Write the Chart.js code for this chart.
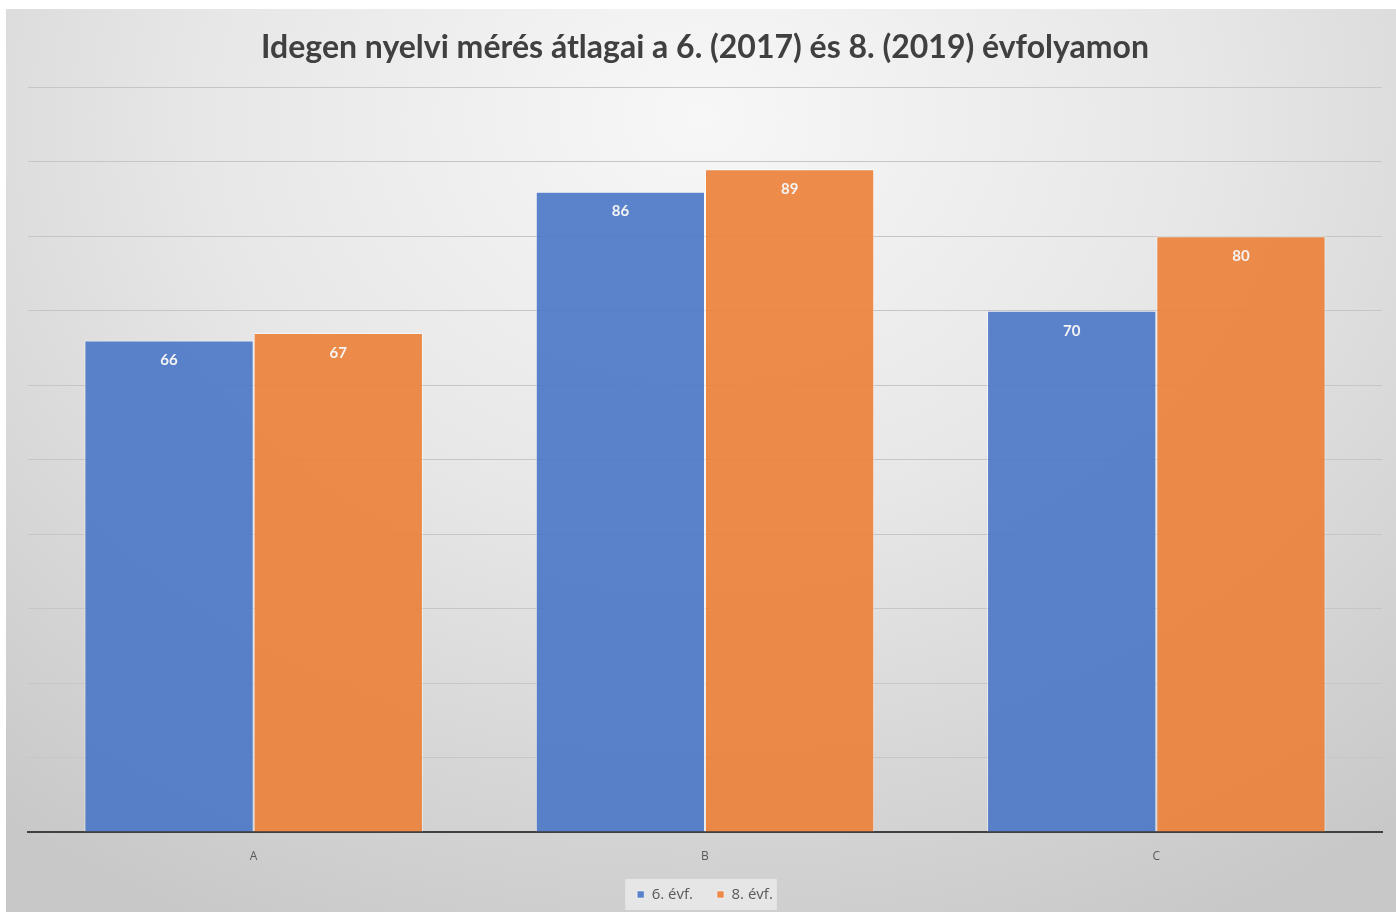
<!DOCTYPE html>
<html>
<head>
<meta charset="utf-8">
<script src="https://cdn.jsdelivr.net/npm/chart.js@4/dist/chart.umd.min.js"></script>
<style>
  html, body { margin: 0; padding: 0; background: #ffffff; }
  #wrap {
    position: absolute; left: 6px; top: 9px; width: 1390px; height: 903px;
    background: radial-gradient(ellipse 80% 100% at 50% 12%, #f7f7f7 0%, #e7e7e7 45%, #c8c8c8 100%);
  }
  canvas { display: block; }
</style>
</head>
<body>
<div id="wrap"><canvas id="chart" width="1390" height="903"></canvas></div>
<script>
const categories = ['A', 'B', 'C'];
const seriesNames = ['6. évf.', '8. évf.'];
const values6 = [66, 86, 70];
const values8 = [67, 89, 80];
const chartTitle = 'Idegen nyelvi mérés átlagai a 6. (2017) és 8. (2019) évfolyamon';

// value labels inside the top of each bar
const barLabels = {
    id: 'barLabels',
    afterDatasetsDraw(chart) {
        const ctx = chart.ctx;
        ctx.save();
        ctx.font = 'bold 15px Lato';
        ctx.fillStyle = '#f4f4f4';
        ctx.textAlign = 'center';
        ctx.textBaseline = 'middle';
        chart.data.datasets.forEach((ds, i) => {
            chart.getDatasetMeta(i).data.forEach((bar, j) => {
                ctx.fillText(ds.data[j], bar.x, bar.y + 20);
            });
        });
        ctx.restore();
    }
};

// light box behind the legend
const legendBox = {
    id: 'legendBox',
    beforeDraw(chart) {
        const boxes = chart.legend.legendHitBoxes;
        if (!boxes || !boxes.length) return;
        const left = Math.min(...boxes.map(b => b.left)) - 12;
        const right = Math.max(...boxes.map(b => b.left + b.width)) + 4;
        const top = boxes[0].top - 8;
        const ctx = chart.ctx;
        ctx.save();
        ctx.fillStyle = 'rgba(235,235,235,0.8)';
        ctx.fillRect(left, top, right - left, boxes[0].height + 16);
        ctx.restore();
    }
};

new Chart(document.getElementById('chart').getContext('2d'), {
    type: 'bar',
    data: {
        labels: categories,
        datasets: [
            {
                label: seriesNames[0],
                data: values6,
                backgroundColor: 'rgba(74, 119, 198, 0.9)',
                borderColor: 'rgba(255, 255, 255, 0.5)',
                borderWidth: 1,
                borderSkipped: 'bottom',
                categoryPercentage: 0.75,
                barPercentage: 1.0
            },
            {
                label: seriesNames[1],
                data: values8,
                backgroundColor: 'rgba(236, 128, 56, 0.9)',
                borderColor: 'rgba(255, 255, 255, 0.5)',
                borderWidth: 1,
                borderSkipped: 'bottom',
                categoryPercentage: 0.75,
                barPercentage: 1.0
            }
        ]
    },
    options: {
        responsive: false,
        animation: false,
        layout: {
            padding: { left: 22, right: 14, top: 0, bottom: 0 }
        },
        plugins: {
            title: {
                display: true,
                text: chartTitle,
                color: '#404040',
                font: { family: 'Lato', size: 32, weight: 'bold' },
                padding: { top: 19, bottom: 21 }
            },
            legend: {
                position: 'bottom',
                maxHeight: 57,
                labels: {
                    boxWidth: 7,
                    boxHeight: 7,
                    color: '#595959',
                    font: { family: 'Open Sans', size: 15 },
                    padding: 24
                }
            },
            tooltip: { enabled: false }
        },
        scales: {
            x: {
                grid: { display: false },
                border: { display: true, color: '#404040', width: 2 },
                ticks: {
                    color: '#595959',
                    font: { family: 'Open Sans', size: 12 },
                    padding: 9
                },
                afterFit: (scale) => { scale.height = 31; }
            },
            y: {
                min: 0,
                max: 100,
                ticks: { display: false, stepSize: 10 },
                grid: { color: '#c6c6c6', lineWidth: 1, drawTicks: false },
                border: { display: false }
            }
        }
    },
    plugins: [barLabels, legendBox]
});
</script>
</body>
</html>
